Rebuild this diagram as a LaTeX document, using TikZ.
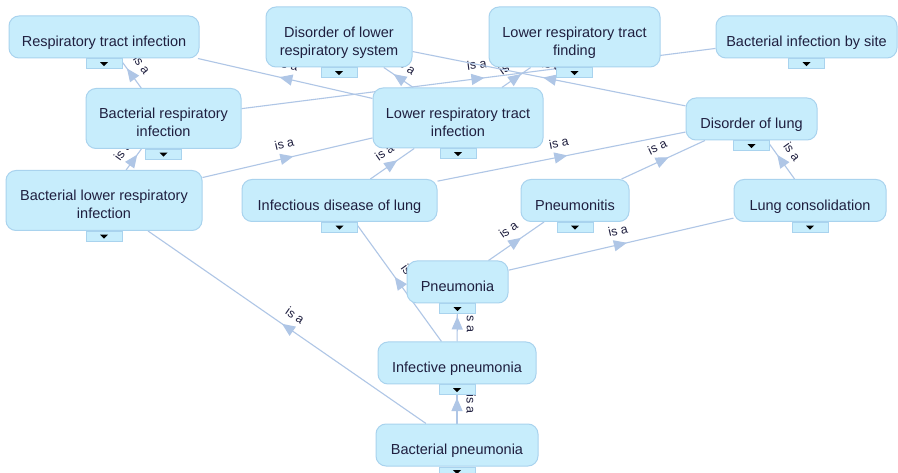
\documentclass[tikz,border=0pt]{standalone}
\usepackage{fontspec}
\setmainfont{Liberation Sans}
\usetikzlibrary{arrows.meta,decorations.markings,backgrounds}
\definecolor{nodefill}{HTML}{C7EDFC}
\definecolor{nodeline}{HTML}{A9D3EE}
\definecolor{edgeline}{HTML}{AFC6E6}
\definecolor{txt}{HTML}{1F1F3F}
\newcommand\twol[2]{\begin{tabular}[b]{@{}c@{}}#1\\#2\end{tabular}}
\begin{document}
\begin{tikzpicture}[x=1pt,y=-1pt,
  concept/.style={draw=nodeline, fill=nodefill, rounded corners=10pt, line width=1pt,
    inner xsep=0pt, inner ysep=0pt, text=txt, font=\fontsize{14.5}{18}\selectfont},
  one/.style={concept, text height=30.7pt, text depth=11.3pt},
  two/.style={concept, text height=48.5pt, text depth=11.5pt},
  tabbox/.style={draw=nodeline, fill=nodefill, line width=0.8pt, minimum width=36pt,
    minimum height=10pt, inner sep=0pt, anchor=north,
    path picture={\fill[black] ([xshift=-4pt,yshift=1.8pt]path picture bounding box.center)
      -- ++(8pt,0pt) -- ++(-4pt,-4pt) -- cycle;}},
  isa/.style={draw=edgeline, line width=1.1pt, postaction={decorate},
    decoration={markings, mark=at position 0.5 with
      {\arrow[xshift=6pt]{Triangle[length=13pt,width=11pt,fill=edgeline]}}}},
  lbl/.style={midway, sloped, above=8pt, font=\fontsize{12.5}{14}\selectfont, text=txt, inner sep=1pt},
  vlbl/.style={midway, rotate=-90, above=8pt, font=\fontsize{12.5}{14}\selectfont, text=txt, inner sep=1pt}]
\useasboundingbox (0,0) rectangle (898,473);

\node[one, minimum width=190pt] (n1) at (104,37) {Respiratory tract infection};
\node[two, minimum width=146pt] (n2) at (339,37) {\twol{Disorder of lower}{respiratory system}};
\node[two, minimum width=171pt] (n3) at (574.5,37) {\twol{Lower respiratory tract}{finding}};
\node[one, minimum width=181pt] (n4) at (806.5,37) {Bacterial infection by site};
\node[two, minimum width=155pt] (n5) at (163.5,118.5) {\twol{Bacterial respiratory}{infection}};
\node[two, minimum width=170pt] (n6) at (458,118) {\twol{Lower respiratory tract}{infection}};
\node[one, minimum width=131pt] (n7) at (751.5,119) {Disorder of lung};
\node[two, minimum width=196pt] (n8) at (104,200.5) {\twol{Bacterial lower respiratory}{infection}};
\node[one, minimum width=195pt] (n9) at (339.5,200.5) {Infectious disease of lung};
\node[one, minimum width=108pt] (n10) at (575,200.5) {Pneumonitis};
\node[one, minimum width=152pt] (n11) at (810,200.5) {Lung consolidation};
\node[one, minimum width=101pt] (n12) at (457.5,282) {Pneumonia};
\node[one, minimum width=158pt] (n13) at (457,363) {Infective pneumonia};
\node[one, minimum width=162pt] (n14) at (457,445) {Bacterial pneumonia};

\foreach \i in {1,...,14} {\node[tabbox] (t\i) at (n\i.south) {};}

\begin{scope}[on background layer]
  \fill[white] (0,0) rectangle (898,473);
  \draw[isa] (n5) -- (n1) node[lbl] {is a};
  \draw[isa] (n6) -- (n1) node[lbl] {is a};
  \draw[isa] (n6) -- (n2) node[lbl] {is a};
  \draw[isa] (n6) -- (n3) node[lbl] {is a};
  \draw[isa] (n5) -- (n4) node[lbl] {is a};
  \draw[isa] (n7) -- (n2) node[lbl] {is a};
  \draw[isa] (n8) -- (n5) node[lbl] {is a};
  \draw[isa] (n8) -- (n6) node[lbl] {is a};
  \draw[isa] (n9) -- (n6) node[lbl] {is a};
  \draw[isa] (n9) -- (n7) node[lbl] {is a};
  \draw[isa] (n10) -- (n7) node[lbl] {is a};
  \draw[isa] (n11) -- (n7) node[lbl] {is a};
  \draw[isa] (n12) -- (n10) node[lbl] {is a};
  \draw[isa] (n12) -- (n11) node[lbl] {is a};
  \draw[isa] (n13) -- (n12) node[vlbl] {is a};
  \draw[isa] (n13) -- (n9) node[lbl] {is a};
  \draw[isa] (n14) -- (n13) node[vlbl] {is a};
  \draw[isa] (n14) -- (n8) node[lbl] {is a};
\end{scope}
\end{tikzpicture}
\end{document}
